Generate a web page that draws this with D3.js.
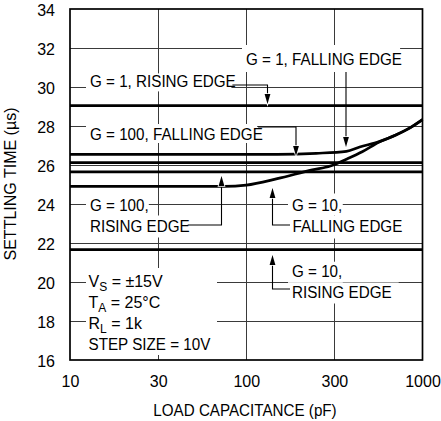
<!DOCTYPE html>
<html>
<head>
<meta charset="utf-8">
<script src="https://cdn.jsdelivr.net/npm/d3@7"></script>
<style>
  html, body { margin: 0; padding: 0; background: #fff; }
  text { font-family: "Liberation Sans", Arial, sans-serif; fill: #000; }
</style>
</head>
<body>
<script>
// ---------------- DATA ----------------
const xTickValues = [10, 31.62, 100, 316.2, 1000];
const xTickLabels = ["10", "30", "100", "300", "1000"];
const yTickValues = [16, 18, 20, 22, 24, 26, 28, 30, 32, 34];
const yTickLabels = ["16", "18", "20", "22", "24", "26", "28", "30", "32", "34"];

// flat traces (two end points, load capacitance pF)
const capFlat = [10, 1000];
const g1RisingTime = [29.05, 29.05];
const flatUpperTime = [26.12, 26.12];
const flatLowerTime = [25.65, 25.65];
const g10RisingTime = [21.66, 21.66];

// curved traces
const capUpper = [10, 150, 250, 370, 440, 568, 706, 839, 1000];
const upperTime = [26.55, 26.55, 26.6, 26.7, 26.92, 27.2, 27.54, 27.88, 28.33];
const capLower = [10, 75, 100, 150, 237, 300, 370, 455, 568, 706, 839, 1000];
const lowerTime = [24.9, 24.9, 24.97, 25.3, 25.75, 25.95, 26.3, 26.68, 27.18, 27.54, 27.88, 28.33];

const xTitle = "LOAD CAPACITANCE (pF)";
const yTitle = "SETTLING TIME (\u00B5s)";

// ---------------- LAYOUT ----------------
const W = 441, H = 421;
const x = d3.scaleLog().domain([10, 1000]).range([70, 422.5]);
const y = d3.scaleLinear().domain([16, 34]).range([360, 9]);
const FS = 16;
const SQ = 0.95; // horizontal condense

const svg = d3.select("body").append("svg").attr("width", W).attr("height", H);

function condense(sel, f) {
  sel.each(function () {
    const w = this.getComputedTextLength();
    this.setAttribute("textLength", w * f);
    this.setAttribute("lengthAdjust", "spacingAndGlyphs");
  });
}

// gridlines
const grid = svg.append("g").attr("shape-rendering", "crispEdges").attr("stroke", "#3a3a3a").attr("stroke-width", 1);
grid.selectAll("line.h").data(yTickValues.slice(1, -1)).join("line")
  .attr("x1", x(10)).attr("x2", x(1000)).attr("y1", d => y(d)).attr("y2", d => y(d));
grid.selectAll("line.v").data(xTickValues.slice(1, -1)).join("line")
  .attr("x1", d => x(d)).attr("x2", d => x(d)).attr("y1", y(34)).attr("y2", y(16));

const boxLayer = svg.append("g");
const dataLayer = svg.append("g");
const leaderLayer = svg.append("g");
const textLayer = svg.append("g");

// data lines
const line = d3.line().x(d => x(d[0])).y(d => y(d[1])).curve(d3.curveMonotoneX);
const series = [
  d3.zip(capFlat, g1RisingTime),
  d3.zip(capFlat, flatUpperTime),
  d3.zip(capFlat, flatLowerTime),
  d3.zip(capFlat, g10RisingTime),
  d3.zip(capUpper, upperTime),
  d3.zip(capLower, lowerTime)
];
dataLayer.selectAll("path").data(series).join("path")
  .attr("d", line).attr("fill", "none").attr("stroke", "#000").attr("stroke-width", 2.7);

// border
svg.append("rect").attr("x", x(10)).attr("y", y(34))
  .attr("width", x(1000) - x(10)).attr("height", y(16) - y(34))
  .attr("fill", "none").attr("stroke", "#000").attr("stroke-width", 1.7);

// axes
const yAxis = svg.append("g").attr("transform", `translate(${x(10)},0)`)
  .call(d3.axisLeft(y).tickValues(yTickValues).tickFormat((d, i) => yTickLabels[i]).tickSize(0).tickPadding(15));
yAxis.select(".domain").remove();
yAxis.selectAll("text").attr("font-size", 16.5).attr("dy", "0.42em")
  .style("font-family", '"Liberation Sans", Arial, sans-serif').call(condense, 0.97);

const xAxis = svg.append("g").attr("transform", `translate(0,${y(16)})`)
  .call(d3.axisBottom(x).tickValues(xTickValues).tickFormat((d, i) => xTickLabels[i]).tickSize(0).tickPadding(15));
xAxis.select(".domain").remove();
xAxis.selectAll("text").attr("font-size", 16.5)
  .style("font-family", '"Liberation Sans", Arial, sans-serif').call(condense, 0.97);

svg.append("text").attr("x", 245).attr("y", 416).attr("text-anchor", "middle")
  .attr("font-size", 16.5).text(xTitle).call(condense, 0.92);
svg.append("text").attr("transform", "translate(16,184) rotate(-90)").attr("text-anchor", "middle")
  .attr("font-size", 16.5).text(yTitle).call(condense, 0.97);

// annotations: [text, x, baseline, padTop, padBottom, padRight]
const annotations = [
  ["G = 1, RISING EDGE", 90, 87.4, 14, 4, 3],
  ["G = 1, FALLING EDGE", 246, 65, 20, 7, 6],
  ["G = 100, FALLING EDGE", 90, 140, 16, 3, 3],
  ["G = 100,", 90, 210.5, 17, 5, 3],
  ["RISING EDGE", 90, 231.5, 16, 6, 3],
  ["G = 10,", 292, 210.5, 17, 5, 3],
  ["FALLING EDGE", 292.5, 231.5, 16, 7, 3],
  ["G = 10,", 292, 276.7, 15, 6, 3],
  ["RISING EDGE", 292, 297.5, 15, 6, 12]
];
const ends = [];
annotations.forEach(a => {
  const t = textLayer.append("text").attr("x", a[1]).attr("y", a[2]).attr("font-size", FS).text(a[0]);
  condense(t, SQ);
  const w = t.node().getComputedTextLength() * SQ;
  ends.push(a[1] + w);
  boxLayer.append("rect").attr("x", a[1] - 4).attr("y", a[2] - a[3])
    .attr("width", w + 4 + a[5]).attr("height", a[3] + a[4]).attr("fill", "#fff");
});

// conditions block
const conds = [
  [["V", ""], ["S", "sub"], [" = \u00B115V", ""]],
  [["T", ""], ["A", "sub"], [" = 25\u00B0C", ""]],
  [["R", ""], ["L", "sub"], [" = 1k", ""]],
  [["STEP SIZE = 10V", ""]]
];
const condBase = [287.3, 308, 328.5, 350];
boxLayer.append("rect").attr("x", 86).attr("y", 268).attr("width", 131).attr("height", 87).attr("fill", "#fff");
conds.forEach((parts, i) => {
  const t = textLayer.append("text").attr("x", 88.5).attr("y", condBase[i]).attr("font-size", FS);
  parts.forEach(p => {
    const ts = t.append("tspan").text(p[0]);
    if (p[1] === "sub") ts.attr("font-size", 12).attr("dy", 4);
    else if (ts.node().previousSibling) ts.attr("dy", -4);
  });
  if (i === 3) condense(t, SQ);
});

// leaders and arrowheads
const pl = d3.line();
const leaders = [
  { pts: [[ends[0] + 4, 85], [267.5, 85], [267.5, 96]], tip: [267.5, 104], dir: 1 },
  { pts: [[346, 72], [346, 139]], tip: [346, 147], dir: 1 },
  { pts: [[ends[2] + 4, 127], [296, 127], [296, 148]], tip: [296, 156], dir: 1 },
  { pts: [[ends[4] + 3, 225], [221.5, 225], [221.5, 184]], tip: [221.5, 176], dir: -1 },
  { pts: [[290, 225], [272.5, 225], [272.5, 196]], tip: [272.5, 188], dir: -1 },
  { pts: [[290, 289], [272.5, 289], [272.5, 263]], tip: [272.5, 255], dir: -1 }
];
leaders.forEach(l => {
  leaderLayer.append("path").attr("d", pl(l.pts)).attr("fill", "none").attr("stroke", "#000").attr("stroke-width", 1.1);
  const [tx, ty] = l.tip, L = 10, hw = 2.9;
  leaderLayer.append("path")
    .attr("d", `M${tx},${ty} L${tx - hw},${ty - l.dir * L} L${tx + hw},${ty - l.dir * L} Z`)
    .attr("fill", "#000").attr("stroke", "#fff").attr("stroke-width", 1.6)
    .style("paint-order", "stroke fill");
});
</script>
</body>
</html>
